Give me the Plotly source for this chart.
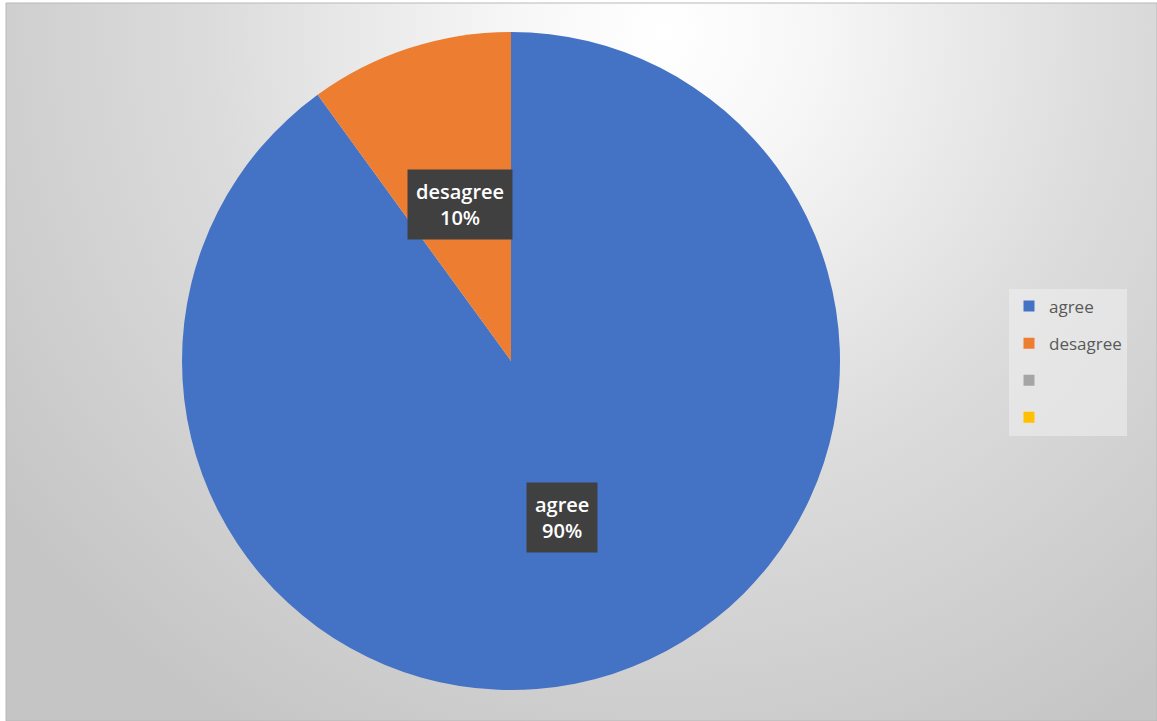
import base64
import math
import plotly.graph_objects as go

# Survey answers (share of respondents); the two unnamed categories are empty
labels = ["agree", "desagree", " ", "  "]
values = [0.90, 0.10, 0.0, 0.0]
colors = ["#4472C4", "#ED7D31", "#A5A5A5", "#FFC000"]

W, H = 1157, 721

# Pie placement in pixels (centre and radius)
cx_px, cy_px, r_px = 511, 361, 329

# Soft radial-gradient backdrop for the chart area
svg = f"""<svg xmlns='http://www.w3.org/2000/svg' width='{W}' height='{H}' viewBox='0 0 {W} {H}' preserveAspectRatio='none'>
<defs>
<radialGradient id='g' gradientUnits='userSpaceOnUse' cx='660' cy='30' r='820'>
<stop offset='0' stop-color='#ffffff'/>
<stop offset='0.18' stop-color='#f7f7f7'/>
<stop offset='0.55' stop-color='#dcdcdc'/>
<stop offset='1' stop-color='#c5c5c5'/>
</radialGradient>
</defs>
<rect x='0' y='0' width='{W}' height='{H}' fill='url(#g)'/>
</svg>"""
bg_src = "data:image/svg+xml;base64," + base64.b64encode(svg.encode()).decode()

fig = go.Figure()
fig.add_trace(
    go.Pie(
        labels=labels,
        values=values,
        sort=False,
        direction="clockwise",
        rotation=0,
        textinfo="none",
        hoverinfo="label+percent",
        marker=dict(colors=colors, line=dict(width=0)),
        domain=dict(
            x=[(cx_px - r_px) / W, (cx_px + r_px) / W],
            y=[1 - (cy_px + r_px) / H, 1 - (cy_px - r_px) / H],
        ),
        showlegend=False,
    )
)

# Legend entries, one group per category so they can be spaced out
for i, (lab, col) in enumerate(zip(labels, colors)):
    fig.add_trace(
        go.Scatter(
            x=[None], y=[None],
            mode="markers",
            name=lab,
            legendgroup=f"g{i}",
            marker=dict(symbol="square", size=11, color=col),
            hoverinfo="skip",
        )
    )

# Data labels in dark boxes, placed halfway out along each slice's mid-angle
total = sum(values)
annotations = []
start = 0.0
for lab, val in zip(labels, values):
    if val <= 0:
        continue
    frac = val / total
    mid = (start + frac / 2) * 2 * math.pi
    start += frac
    d = 0.5 * r_px
    x = (cx_px + d * math.sin(mid)) / W
    y = 1 - (cy_px - d * math.cos(mid)) / H
    annotations.append(
        dict(
            x=x, y=y, xref="paper", yref="paper",
            xanchor="center", yanchor="middle",
            text=f"{lab}<br>{round(frac * 100)}%",
            showarrow=False,
            font=dict(family="Open Sans", size=20, color="#ffffff", weight=600),
            bgcolor="#404040",
            borderpad=8,
            align="center",
        )
    )

fig.update_layout(
    width=W,
    height=H,
    margin=dict(l=0, r=0, t=0, b=0),
    paper_bgcolor="#ffffff",
    plot_bgcolor="rgba(0,0,0,0)",
    xaxis=dict(visible=False),
    yaxis=dict(visible=False),
    annotations=annotations,
    images=[
        dict(
            source=bg_src,
            xref="paper", yref="paper",
            x=6 / W, y=1 - 3 / H,
            sizex=(W - 6) / W, sizey=(H - 3) / H,
            xanchor="left", yanchor="top",
            sizing="stretch",
            layer="below",
        )
    ],
    shapes=[
        dict(
            type="rect", xref="paper", yref="paper",
            x0=6 / W, x1=1, y0=0, y1=1 - 3 / H,
            line=dict(color="#b8b8b8", width=1),
            fillcolor="rgba(0,0,0,0)",
        )
    ],
    legend=dict(
        x=1009 / W, y=1 - 362 / H,
        xanchor="left", yanchor="middle",
        bgcolor="rgba(240,240,240,0.55)",
        font=dict(family="Open Sans", size=17, color="#595959"),
        tracegroupgap=12,
        itemclick=False,
        itemdoubleclick=False,
        itemwidth=30,
    ),
)

fig.write_html("out.html")
